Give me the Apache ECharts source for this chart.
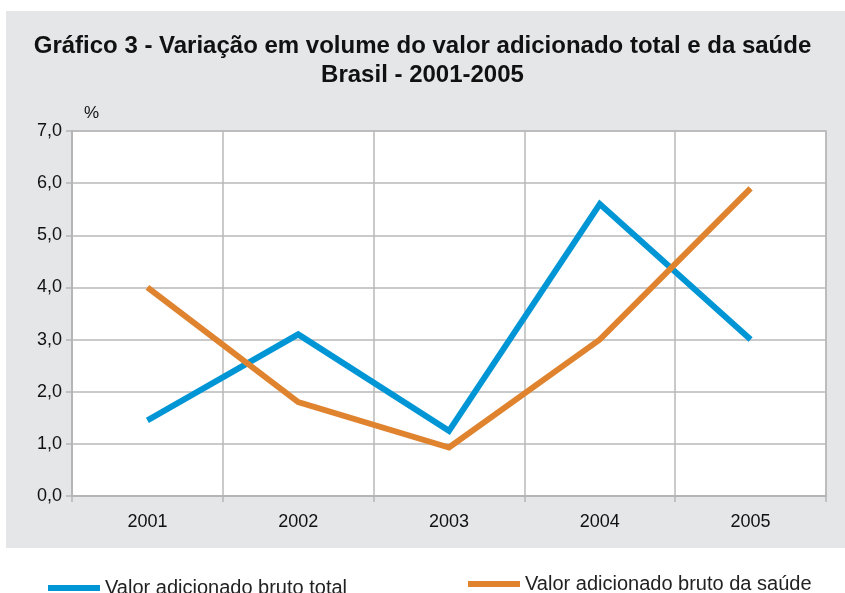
<!DOCTYPE html>
<html><head><meta charset="utf-8">
<script src="https://cdn.jsdelivr.net/npm/echarts@6/dist/echarts.min.js"></script>
<style>html,body{margin:0;padding:0;background:#fff}#c{width:845px;height:593px}</style>
</head><body><div id="c"></div>
<script>
const categories = ['2001','2002','2003','2004','2005'];
const totalValues = [1.45, 3.1, 1.25, 5.6, 3.0];
const saudeValues = [4.0, 1.8, 0.93, 3.0, 5.9];
const seriesNames = ['Valor adicionado bruto total', 'Valor adicionado bruto da saúde'];
const titleLines = ['Gráfico 3 - Variação em volume do valor adicionado total e da saúde', 'Brasil - 2001-2005'];

const chart = echarts.init(document.getElementById('c'), null, {renderer:'canvas'});
const font = '"Liberation Sans", Arial, Helvetica, sans-serif';
chart.setOption({
  animation: false,
  textStyle: {fontFamily: font},
  graphic: [{type:'rect', z:-10, shape:{x:6, y:11, width:839, height:537}, style:{fill:'#e5e6e8'}}],
  title: {
    text: titleLines.join('\n'),
    left: 'center', top: 27,
    textStyle: {fontSize: 24, fontWeight: 'bold', color: '#111', lineHeight: 29, fontFamily: font}
  },
  legend: [
    {data:[seriesNames[0]], left: 43, top: 573, itemWidth: 52, itemHeight: 6,
     icon: 'rect', textStyle:{fontSize:20, color:'#222', fontFamily: font}},
    {data:[seriesNames[1]], left: 463, top: 569, itemWidth: 52, itemHeight: 6,
     icon: 'rect', textStyle:{fontSize:20, color:'#222', fontFamily: font}}
  ],
  grid: {left: 72, right: 19, top: 131, bottom: 97, show: true, backgroundColor:'#fff', borderColor:'#bbb', borderWidth: 1.5},
  xAxis: {
    type: 'category', data: categories, boundaryGap: true,
    axisLine: {lineStyle:{color:'#b5b5b5', width:2}},
    axisTick: {show:true, length:6, lineStyle:{color:'#b5b5b5', width:1.5}},
    axisLabel: {fontSize:18, color:'#111', margin: 17, fontFamily: font},
    splitLine: {show:true, lineStyle:{color:'#b9b9b9', width:1.5}}
  },
  yAxis: {
    type: 'value', min: 0, max: 7, interval: 1,
    name: '%', nameLocation: 'end', nameGap: 9,
    nameTextStyle: {fontSize:17, color:'#111', align:'left', padding:[0,0,0,12], fontFamily: font},
    axisLine: {show:true, lineStyle:{color:'#b5b5b5', width:2}},
    axisTick: {show:true, length:6, lineStyle:{color:'#b5b5b5', width:1.5}},
    axisLabel: {fontSize:18, color:'#111', margin: 10, fontFamily: font,
      formatter: v => v.toFixed(1).replace('.', ',')},
    splitLine: {show:true, lineStyle:{color:'#b9b9b9', width:1.5}}
  },
  series: [
    {name: seriesNames[0], type:'line', data: totalValues, symbol:'none',
     lineStyle:{width:6, color:'#0096d6', join:'miter'}, itemStyle:{color:'#0096d6'}},
    {name: seriesNames[1], type:'line', data: saudeValues, symbol:'none',
     lineStyle:{width:6, color:'#e0832f', join:'miter'}, itemStyle:{color:'#e0832f'}}
  ]
});
</script></body></html>
